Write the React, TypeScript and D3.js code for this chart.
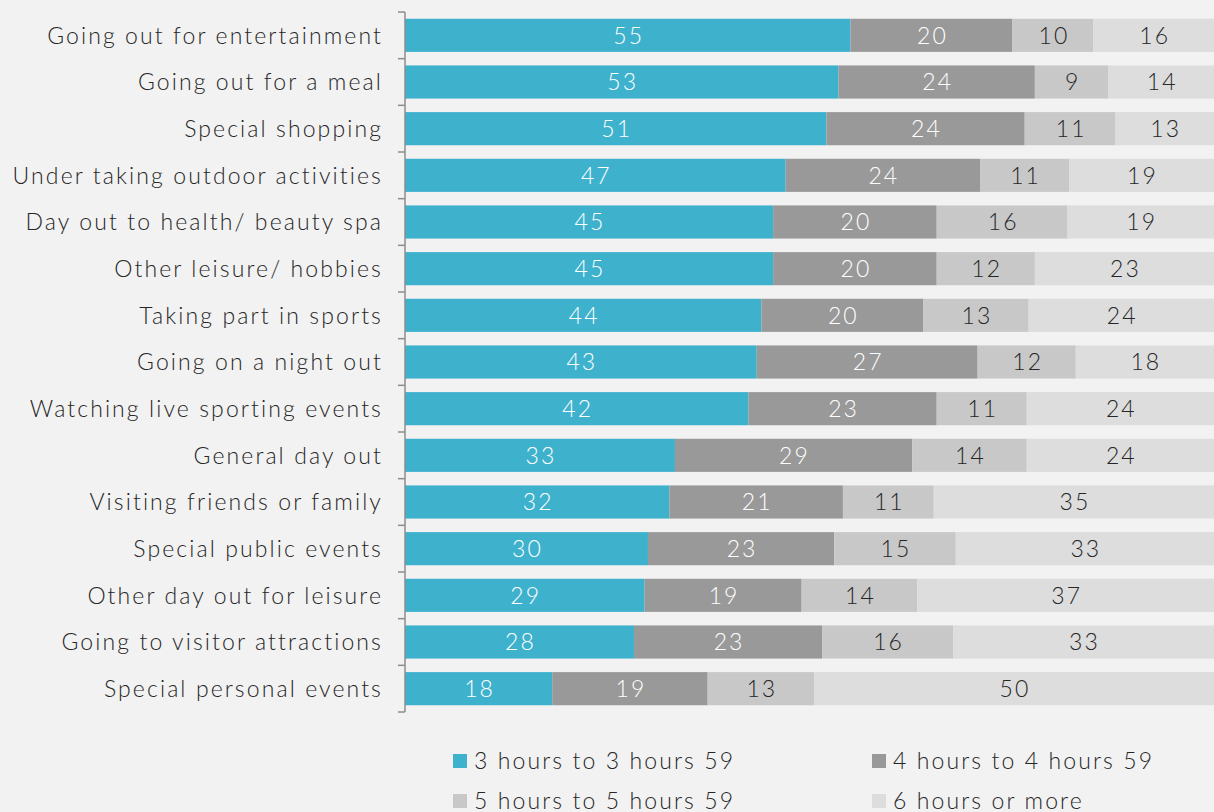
import * as d3 from 'd3';
import { useEffect, useRef } from 'react';

const categories = [
  'Going out for entertainment',
  'Going out for a meal',
  'Special shopping',
  'Under taking outdoor activities',
  'Day out to health/ beauty spa',
  'Other leisure/ hobbies',
  'Taking part in sports',
  'Going on a night out',
  'Watching live sporting events',
  'General day out',
  'Visiting friends or family',
  'Special public events',
  'Other day out for leisure',
  'Going to visitor attractions',
  'Special personal events',
];

const h3 = [55, 53, 51, 47, 45, 45, 44, 43, 42, 33, 32, 30, 29, 28, 18];
const h4 = [20, 24, 24, 24, 20, 20, 20, 27, 23, 29, 21, 23, 19, 23, 19];
const h5 = [10, 9, 11, 11, 16, 12, 13, 12, 11, 14, 11, 15, 14, 16, 13];
const h6 = [16, 14, 13, 19, 19, 23, 24, 18, 24, 24, 35, 33, 37, 33, 50];

const seriesNames = ['3 hours to 3 hours 59', '4 hours to 4 hours 59', '5 hours to 5 hours 59', '6 hours or more'];
const colors = ['#3eb1cd', '#999999', '#c8c8c8', '#dddddd'];
const labelColors = ['#ffffff', '#ffffff', '#262626', '#262626'];

const FONT = 'Lato, "DejaVu Sans", sans-serif';
const SPACING = '2.1px';

export default function App() {
  const ref = useRef<SVGSVGElement | null>(null);

  useEffect(() => {
    document.body.style.margin = '0';
    const width = 1214;
    const height = 812;
    const svg = d3.select(ref.current);
    svg.selectAll('*').remove();
    svg.attr('width', width).attr('height', height).style('display', 'block');

    svg.append('rect').attr('width', width).attr('height', height).attr('fill', '#f2f2f2');

    const keys = ['a', 'b', 'c', 'd'];
    const rows = categories.map((c, i) => ({ cat: c, a: h3[i], b: h4[i], c: h5[i], d: h6[i] }));
    const stacked = d3.stack<any>().keys(keys).offset(d3.stackOffsetExpand)(rows);

    const x = d3.scaleLinear().domain([0, 1]).range([405, 1223]);
    const y = d3.scaleBand().domain(categories).range([12, 712]).paddingInner(0.29).paddingOuter(0.145);

    const g = svg.append('g');
    stacked.forEach((s, si) => {
      const grp = g.append('g');
      grp.selectAll('rect')
        .data(s)
        .join('rect')
        .attr('x', d => x(d[0]))
        .attr('y', d => y(d.data.cat)!)
        .attr('width', d => x(d[1]) - x(d[0]))
        .attr('height', y.bandwidth())
        .attr('fill', colors[si]);
      grp.selectAll('text')
        .data(s)
        .join('text')
        .attr('x', d => (x(d[0]) + Math.min(x(d[1]), width)) / 2 + 1)
        .attr('y', d => y(d.data.cat)! + y.bandwidth() / 2)
        .attr('dy', '0.36em')
        .attr('text-anchor', 'middle')
        .attr('font-family', FONT)
        .attr('font-weight', 300)
        .attr('font-size', 23)
        .attr('letter-spacing', SPACING)
        .attr('fill', labelColors[si])
        .text((d: any) => d.data[keys[si]]);
    });

    // y axis
    const axis = svg.append('g').attr('stroke', '#8c8c8c').attr('stroke-width', 1.5);
    axis.append('line').attr('x1', 405).attr('x2', 405).attr('y1', 12).attr('y2', 712);
    const step = y.step();
    d3.range(categories.length + 1).forEach(i => {
      const yy = 12 + i * step;
      axis.append('line').attr('x1', 398).attr('x2', 405).attr('y1', yy).attr('y2', yy);
    });

    svg.append('g')
      .selectAll('text')
      .data(categories)
      .join('text')
      .attr('x', 383)
      .attr('y', d => y(d)! + y.bandwidth() / 2)
      .attr('dy', '0.36em')
      .attr('text-anchor', 'end')
      .attr('font-family', FONT)
      .attr('font-weight', 300)
      .attr('font-size', 23)
      .attr('letter-spacing', SPACING)
      .attr('fill', '#262626')
      .text(d => d);

    // legend
    const legendPos = [
      [453, 761], [872, 761], [453, 801], [872, 801],
    ];
    const leg = svg.append('g');
    seriesNames.forEach((name, i) => {
      const [lx, ly] = legendPos[i];
      leg.append('rect').attr('x', lx).attr('y', ly - 7).attr('width', 14).attr('height', 14).attr('fill', colors[i]);
      leg.append('text')
        .attr('x', lx + 21)
        .attr('y', ly)
        .attr('dy', '0.36em')
        .attr('font-family', FONT)
        .attr('font-weight', 300)
        .attr('font-size', 23)
        .attr('letter-spacing', SPACING)
        .attr('fill', '#262626')
        .text(name);
    });
  }, []);

  return <svg ref={ref}></svg>;
}
